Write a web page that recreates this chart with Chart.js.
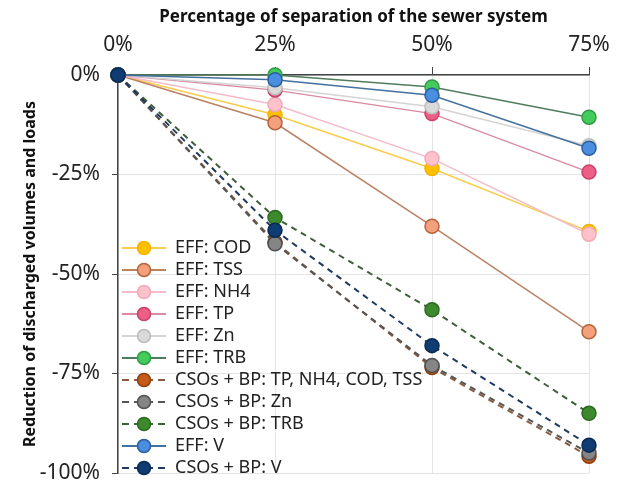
<!DOCTYPE html>
<html lang="en">
<head>
    <meta charset="UTF-8">
    <title>Sewer separation</title>
    <script src="https://cdn.jsdelivr.net/npm/chart.js"></script>
    <style>
        * {
            padding: 0;
            margin: 0;
        }
        body {
            background-color: #ffffff;
        }
        .chart-container {
            position: relative;
            width: 621px;
            height: 482px;
        }
    </style>
</head>
<body>
    <div class="chart-container">
        <canvas id="myChart"></canvas>
    </div>
    <script>
        const separation = ['0%', '25%', '50%', '75%'];
        const yTicks = [0, -25, -50, -75, -100];

        const effCOD = [0, -10, -23.5, -39.3];
        const effTSS = [0, -12, -38, -64.5];
        const effNH4 = [0, -7.4, -21, -40];
        const effTP = [0, -3.8, -9.7, -24.4];
        const effZn = [0, -3.2, -8, -17.8];
        const effTRB = [0, 0, -3, -10.6];
        const csoLoads = [0, -42, -73.5, -95.8];
        const csoZn = [0, -42.4, -73, -95];
        const csoTRB = [0, -35.8, -59, -85];
        const effV = [0, -1.2, -5.1, -18.4];
        const csoV = [0, -39, -68, -93];

        // label, values, line colour, marker fill, marker border, dashed
        const series = [
            ['EFF: COD', effCOD, '#f7cc4a', '#ffc000', '#f0b400', false],
            ['EFF: TSS', effTSS, '#b98263', '#f4a07c', '#b5633c', false],
            ['EFF: NH4', effNH4, '#f3bcc8', '#ffc2cb', '#f0aab8', false],
            ['EFF: TP', effTP, '#d98aa0', '#ee5f88', '#c94069', false],
            ['EFF: Zn', effZn, '#d4d4d4', '#d9d9d9', '#bdbdbd', false],
            ['EFF: TRB', effTRB, '#4f7d5c', '#43cc5c', '#2f9c45', false],
            ['CSOs + BP: TP, NH4, COD, TSS', csoLoads, '#8a5a3e', '#c85a17', '#8c3e10', true],
            ['CSOs + BP: Zn', csoZn, '#555555', '#858585', '#505050', true],
            ['CSOs + BP: TRB', csoTRB, '#3f5f3a', '#3d8a2e', '#2c6a20', true],
            ['EFF: V', effV, '#45709e', '#4a8fdf', '#2b5f9e', false],
            ['CSOs + BP: V', csoV, '#1f3a5f', '#0f3c72', '#0a2a52', true]
        ];

        function makeIcon(line, fill, border, dashed) {
            const c = document.createElement('canvas');
            c.width = 44;
            c.height = 16;
            const g = c.getContext('2d');
            g.strokeStyle = line;
            g.lineWidth = 2;
            if (dashed) {
                g.setLineDash([7, 5]);
            }
            g.beginPath();
            g.moveTo(0, 8);
            g.lineTo(44, 8);
            g.stroke();
            g.setLineDash([]);
            g.beginPath();
            g.arc(22, 8, 6.5, 0, Math.PI * 2);
            g.fillStyle = fill;
            g.fill();
            g.lineWidth = 1.5;
            g.strokeStyle = border;
            g.stroke();
            return c;
        }

        const icons = series.map(s => makeIcon(s[2], s[3], s[4], s[5]));

        const datasets = series.map((s, i) => ({
            label: s[0],
            data: s[1],
            borderColor: s[2],
            borderWidth: s[5] ? 2 : 1.5,
            borderDash: s[5] ? [6, 5] : [],
            pointBackgroundColor: s[3],
            pointBorderColor: s[4],
            pointBorderWidth: 1.5,
            pointRadius: 7,
            tension: 0,
            fill: false,
            clip: false,
            order: series.length - i
        }));

        Chart.defaults.font.family = "'Noto Sans', sans-serif";
        Chart.defaults.color = '#222';

        // push the legend column down a little, as in the original
        function shiftLegend(chart) {
            if (chart.legend) {
                chart.legend.bottom = chart.chartArea.bottom + 8;
            }
        }
        const legendShift = {
            id: 'legendShift',
            afterLayout: shiftLegend,
            beforeDraw: shiftLegend
        };

        const ctx = document.getElementById('myChart').getContext('2d');
        const chart = new Chart(ctx, {
            type: 'line',
            data: {
                labels: separation,
                datasets: datasets
            },
            plugins: [legendShift],
            options: {
                responsive: true,
                maintainAspectRatio: false,
                animation: false,
                layout: {
                    padding: { left: 0, right: 32, top: 4, bottom: 9 }
                },
                scales: {
                    x: {
                        position: 'top',
                        offset: false,
                        grid: { color: '#e4e4e4', tickColor: '#444', tickLength: 8 },
                        border: { color: '#444', width: 1.5 },
                        ticks: { font: { size: 21 }, color: '#222', padding: 9 },
                        title: {
                            display: true,
                            text: 'Percentage of separation of the sewer system',
                            font: { size: 17, weight: 'bold' },
                            color: '#111',
                            padding: { top: 3, bottom: 2 }
                        },
                        afterFit: function(scale) {
                            scale.height = 71;
                        }
                    },
                    y: {
                        min: -100,
                        max: 0,
                        afterBuildTicks: function(scale) {
                            scale.ticks = yTicks.map(v => ({ value: v }));
                        },
                        grid: { color: '#e4e4e4', tickColor: '#444', tickLength: 6 },
                        border: { color: '#444', width: 1.5 },
                        ticks: {
                            font: { size: 21 },
                            color: '#222',
                            padding: 12,
                            callback: function(value) {
                                return value + '%';
                            }
                        },
                        title: {
                            display: true,
                            text: 'Reduction of discharged volumes and loads',
                            font: { size: 16, weight: 'bold' },
                            color: '#111',
                            padding: { top: 21, bottom: 0 }
                        },
                        afterFit: function(scale) {
                            scale.width = 118;
                            scale.paddingTop = 0;
                            scale.paddingBottom = 0;
                        }
                    }
                },
                plugins: {
                    legend: {
                        position: 'chartArea',
                        align: 'end',
                        labels: {
                            usePointStyle: true,
                            pointStyleWidth: 44,
                            boxHeight: 16,
                            padding: 4,
                            font: { size: 18 },
                            color: '#222',
                            generateLabels: function(chart) {
                                return chart.data.datasets.map((ds, i) => ({
                                    text: ds.label,
                                    pointStyle: icons[i],
                                    datasetIndex: i,
                                    hidden: false,
                                    lineWidth: 0,
                                    fillStyle: 'transparent',
                                    strokeStyle: 'transparent',
                                    fontColor: '#222'
                                }));
                            }
                        }
                    },
                    tooltip: { enabled: false }
                }
            }
        });
    </script>
</body>
</html>
